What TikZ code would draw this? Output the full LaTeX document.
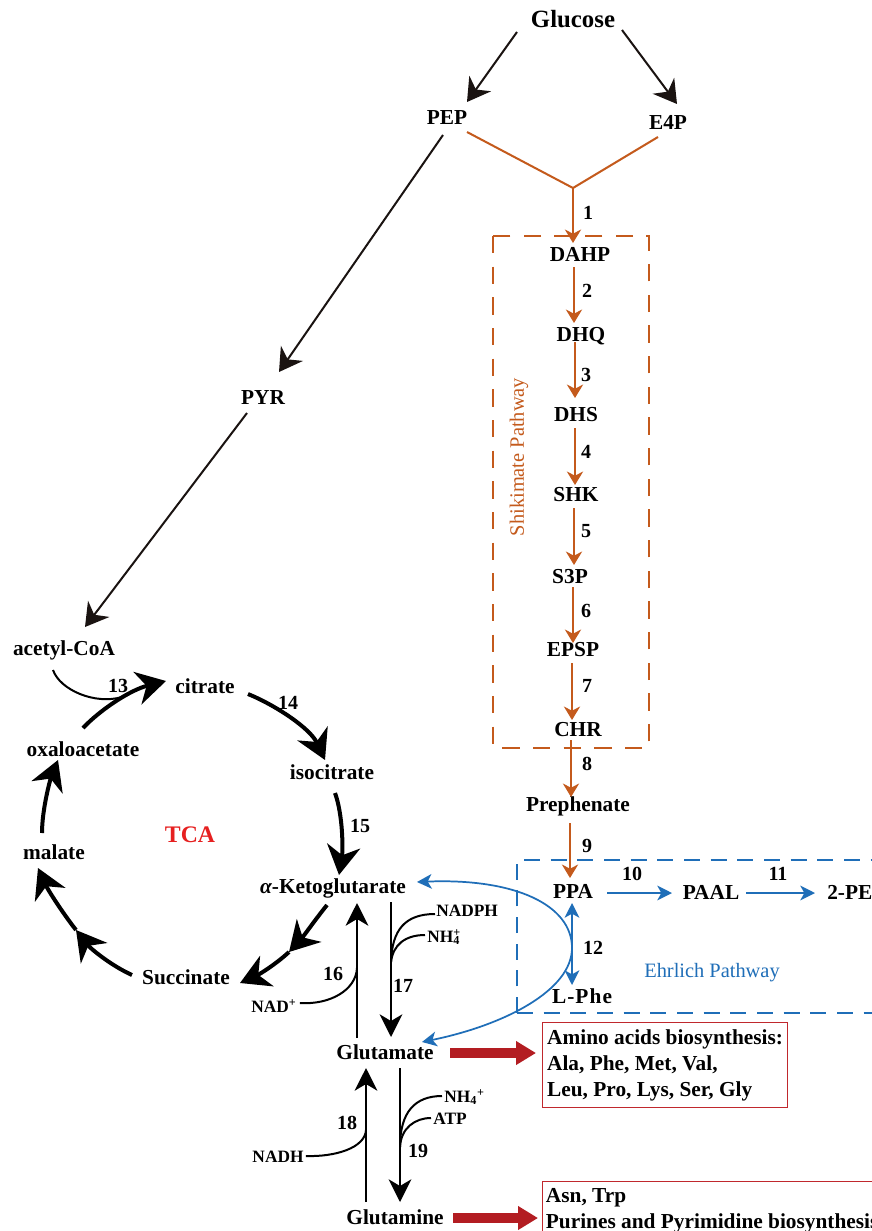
\documentclass[tikz,border=0pt]{standalone}
\usepackage{fontspec}
\setmainfont{Liberation Serif}
\usetikzlibrary{arrows.meta,calc}
\definecolor{ink}{HTML}{1A1311}
\definecolor{orng}{HTML}{C45A1C}
\definecolor{blu}{HTML}{1F6EB8}
\definecolor{dred}{HTML}{B31D22}
\definecolor{tcared}{HTML}{E62020}
\definecolor{boxred}{HTML}{C0282D}
\begin{document}
\begin{tikzpicture}[x=0.75pt,y=-0.75pt,
 met/.style={font=\fontsize{16}{19}\selectfont\bfseries,inner sep=0pt,text height=12pt,text depth=2pt},
 num/.style={font=\fontsize{15}{18}\selectfont\bfseries,inner sep=0pt,text height=10.5pt,text depth=0pt},
 cof/.style={font=\fontsize{13}{15}\selectfont\bfseries,inner sep=0pt,text height=9.5pt,text depth=0pt},
 karr/.style={draw=ink,line width=1.5pt,-{Stealth[length=17pt,width=20pt,inset=5.5pt]}},
 oline/.style={draw=orng,line width=1.5pt},
 oarr/.style={draw=orng,line width=2.2pt,-{Stealth[length=10pt,width=12pt,inset=3pt]}},
 barr/.style={draw=blu,line width=1.3pt,-{Stealth[length=11pt,width=11pt,inset=3pt]}},
 bbarr/.style={draw=blu,line width=1.3pt,{Stealth[length=11pt,width=11pt,inset=3pt]}-{Stealth[length=11pt,width=11pt,inset=3pt]}},
 tarr/.style={draw=black,line width=3pt,-{Stealth[length=22pt,width=25pt,inset=7pt]}},
 rarr/.style={draw=black,line width=1.8pt,-{Stealth[length=17pt,width=17pt,inset=5pt]}},
 thinl/.style={draw=black,line width=1.5pt},
 fat/.style={draw=dred,line width=7pt,-{Triangle[length=15pt,width=17pt]}},
 bx/.style={draw=boxred,line width=0.9pt,anchor=north west,font=\fontsize{16}{19.5}\selectfont\bfseries,align=left,inner xsep=2.5pt}
]
\useasboundingbox (0,0) rectangle (871,1231);
\fill[white] (0,0) rectangle (871,1231);

% ---------- nodes ----------
\node[met,font=\fontsize{18.6}{22}\selectfont\bfseries,text height=13.5pt,text depth=2.5pt] (glc) at (573,20) {Glucose};
\node[met] (pep) at (447,118) {PEP};
\node[met] (e4p) at (668,123) {E4P};
\node[met] (dahp) at (580,255) {DAHP};
\node[met] (dhq) at (581,335) {DHQ};
\node[met] (dhs) at (576,415) {DHS};
\node[met] (shk) at (576,495) {SHK};
\node[met] (s3p) at (570,577) {S3P};
\node[met] (epsp) at (573,650) {EPSP};
\node[met] (chr) at (578,730) {CHR};
\node[met] (pre) at (578,805) {Prephenate};
\node[met] (ppa) at (573,892) {PPA};
\node[met] (paal) at (711,893) {PAAL};
\node[met,anchor=west] (pe) at (827,893) {2-PE};
\node[met] (phe) at (582,997) {\addfontfeature{LetterSpace=5}L-Phe};
\node[met] (pyr) at (263,398) {PYR};
\node[met] (acoa) at (64,649) {acetyl-CoA};
\node[met] (cit) at (205,687) {citrate};
\node[met] (iso) at (332,773) {isocitrate};
\node[met] (akg) at (333,887) {{\itshape α}-Ketoglutarate};
\node[met] (suc) at (186,978) {Succinate};
\node[met] (mal) at (54,853) {malate};
\node[met] (oaa) at (83,750) {oxaloacetate};
\node[met] (glu) at (385,1053) {Glutamate};
\node[met] (gln) at (395,1218) {Glutamine};
\node[font=\fontsize{17.8}{20}\selectfont\bfseries,text=tcared,inner sep=0pt] (tca) at (190,835) {TCA};

\node[cof,anchor=west] (nadph) at (436,910) {NADPH};
\node[cof,anchor=west] (nh4a) at (427,936) {NH\rlap{\textsuperscript{+}}\textsubscript{4}};
\node[cof] (nad) at (274,1006) {NAD\textsuperscript{+}};
\node[cof] (nadh) at (278,1156) {NADH};
\node[cof,anchor=west] (nh4b) at (444,1096) {NH\textsubscript{4}\textsuperscript{+}};
\node[cof,anchor=west] (atp) at (433,1118) {ATP};

\node[num] (n1) at (588,212) {1};
\node[num] (n2) at (587,290) {2};
\node[num] (n3) at (586,374) {3};
\node[num] (n4) at (586,451) {4};
\node[num] (n5) at (586,530) {5};
\node[num] (n6) at (586,610) {6};
\node[num] (n7) at (587,685) {7};
\node[num] (n8) at (587,763) {8};
\node[num] (n9) at (587,845) {9};
\node[num] (n10) at (632,873) {10};
\node[num] (n11) at (778,873) {11};
\node[num] (n12) at (593,947) {12};
\node[num] (n13) at (118,685) {13};
\node[num] (n14) at (288,702) {14};
\node[num] (n15) at (360,825) {15};
\node[num] (n16) at (333,973) {16};
\node[num] (n17) at (403,985) {17};
\node[num] (n18) at (347,1122) {18};
\node[num] (n19) at (418,1150) {19};

\node[font=\fontsize{15.3}{18}\selectfont,text=orng,rotate=90,inner sep=0pt] (shl) at (519,457) {Shikimate Pathway};
\node[font=\fontsize{15.3}{18}\selectfont,text=blu,inner sep=0pt] (ehl) at (712,973) {Ehrlich Pathway};

\node[bx,minimum width=183.75pt,minimum height=63.75pt] (box1) at (542,1022) {Amino acids biosynthesis:\\Ala, Phe, Met, Val,\\Leu, Pro, Lys, Ser, Gly};
\node[bx,inner ysep=5pt] (box2) at (542,1181) {Asn, Trp\\Purines and Pyrimidine biosynthesis};

% ---------- frames ----------
\draw[orng,line width=1.1pt,dash pattern=on 13pt off 10pt] (493,236) rectangle (649,748);
\draw[blu,line width=1pt,dash pattern=on 12pt off 8pt] (517,1013) |- (880,860);
\draw[blu,line width=1pt,dash pattern=on 12pt off 8pt] (517,1013) -- (880,1013);

% ---------- glycolysis ----------
\draw[karr] ($(glc)+(-56,12)$) -- ($(pep)+(20,-16)$);
\draw[karr] ($(glc)+(49,10)$) -- ($(e4p)+(9,-19)$);
\draw[karr] ($(pep)+(-4,17)$) -- ($(pyr)+(16,-26)$);
\draw[karr] ($(pyr)+(-16,15)$) -- ($(acoa)+(21,-22)$);

% ---------- shikimate ----------
\coordinate (jn) at (573,188);
\draw[oline] ($(pep)+(20,14)$) -- (jn) -- ($(e4p)+(-10,14)$);
\draw[oarr] (jn) -- ($(dahp)+(-7,-12)$);
\draw[oarr] ($(dahp)+(-6,12)$) -- ($(dhq)+(-7,-12)$);
\draw[oarr] ($(dhq)+(-6,7)$) -- ($(dhs)+(-1,-17)$);
\draw[oarr] ($(dhs)+(-1,13)$) -- ($(shk)+(-1,-10)$);
\draw[oarr] ($(shk)+(-2,13)$) -- ($(s3p)+(4,-12)$);
\draw[oarr] ($(s3p)+(3,10)$) -- ($(epsp)+(0,-7)$);
\draw[oarr] ($(epsp)+(-1,13)$) -- ($(chr)+(-6,-10)$);
\draw[oarr] ($(chr)+(-7,10)$) -- ($(pre)+(-7,-8)$);
\draw[oarr] ($(pre)+(-8,18)$) -- ($(ppa)+(-3,-14)$);

% ---------- Ehrlich ----------
\draw[barr] ($(ppa)+(34,1)$) -- ($(paal)+(-39,0)$);
\draw[barr] ($(paal)+(35,0)$) -- ($(pe.west)+(-12,0)$);
\draw[bbarr] ($(ppa)+(-1,11)$) -- ($(phe)+(-10,-12)$);
\draw[bbarr] ($(akg)+(84,-5)$) .. controls (515,878) and (572,905) .. (572,948)
   .. controls (572,990) and (505,1025) .. ($(glu)+(37,-11)$);

% ---------- TCA ----------
\coordinate (j13) at (122,697);
\draw[thinl] ($(acoa)+(-11,21)$) .. controls (60,690) and (95,705) .. (j13);
\draw[tarr] ($(oaa)+(0,-22)$) .. controls (100,710) and (130,690) .. ($(cit)+(-39,-6)$);
\draw[tarr] ($(cit)+(43,7)$) .. controls (275,705) and (310,728) .. ($(iso)+(-7,-13)$);
\draw[tarr] ($(iso)+(3,20)$) .. controls (343,815) and (343,850) .. ($(akg)+(6,-12)$);
\coordinate (m1) at (289,952);
\draw[tarr] ($(akg)+(-6,18)$) .. controls (315,920) and (303,937) .. (m1);
\draw[tarr] (m1) .. controls (275,965) and (258,975) .. ($(suc)+(54,5)$);
\coordinate (m2) at (76,930);
\draw[tarr] ($(suc)+(-54,-3)$) .. controls (110,965) and (90,948) .. (m2);
\draw[tarr] (m2) .. controls (62,912) and (48,890) .. ($(mal)+(-16,15)$);
\draw[tarr] ($(mal)+(-12,-20)$) .. controls (42,810) and (50,780) .. ($(oaa)+(-25,10)$);

% ---------- glutamate reactions ----------
\draw[rarr] ($(akg)+(58,15)$) -- ($(glu)+(6,-16)$);
\draw[rarr] ($(glu)+(-28,-15)$) -- ($(akg)+(24,16)$);
\draw[rarr] ($(gln)+(-29,-16)$) -- ($(glu)+(-19,15)$);
\draw[rarr] ($(glu)+(15,15)$) -- ($(gln)+(5,-16)$);

\coordinate (j17) at (391,962);
\draw[thinl] ($(nadph.west)+(-1,4)$) .. controls (405,914) and (392,930) .. (j17);
\draw[thinl] ($(nh4a.west)+(-2,-1)$) .. controls (405,935) and (393,945) .. (j17);
\coordinate (j16) at (357,968);
\draw[thinl] ($(nad.east)+(3,-3)$) .. controls (330,1005) and (356,990) .. (j16);
\coordinate (j18) at (366,1130);
\draw[thinl] ($(nadh.east)+(2,0)$) .. controls (335,1157) and (365,1148) .. (j18);
\coordinate (j19) at (400,1147);
\draw[thinl] ($(nh4b.west)+(-2,0)$) .. controls (415,1096) and (400,1112) .. (j19);
\draw[thinl] ($(atp.west)+(-2,0)$) .. controls (415,1118) and (401,1128) .. (j19);

% ---------- outputs ----------
\draw[fat] ($(glu)+(65,0)$) -- ($(box1.west |- glu)+(-6,0)$);
\draw[fat] ($(gln)+(58,0)$) -- ($(box2.west |- gln)+(-4,0)$);
\end{tikzpicture}
\end{document}
